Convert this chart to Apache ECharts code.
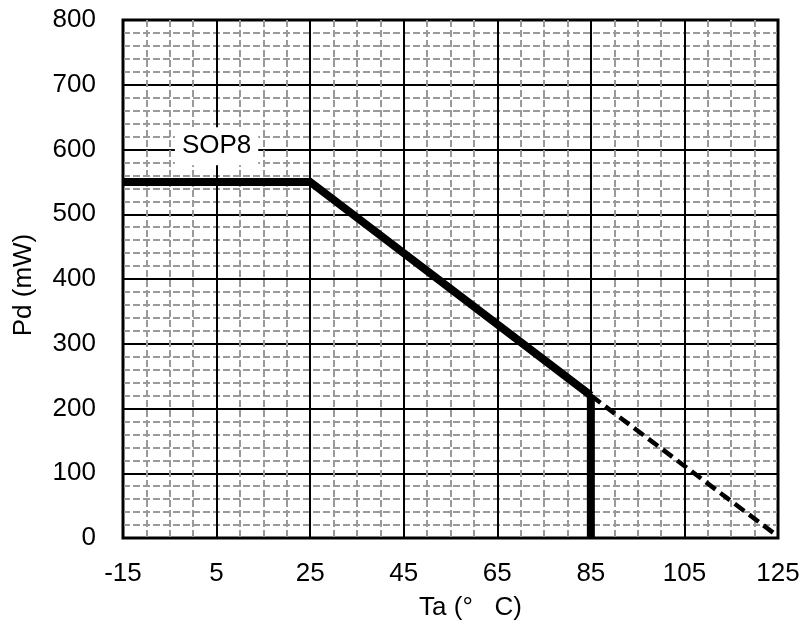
<!DOCTYPE html>
<html>
<head>
<meta charset="utf-8">
<script src="https://cdn.jsdelivr.net/npm/echarts@6/dist/echarts.min.js"></script>
<style>html,body{margin:0;padding:0;background:#fff;}#c{width:809px;height:628px;}</style>
</head>
<body>
<div id="c"></div>
<script>
// Data (temperature °C, power mW)
const X_MIN = -15, X_MAX = 125, X_STEP = 20;
const Y_MIN = 0, Y_MAX = 800, Y_STEP = 100;
const solidTemps = [-15, 25, 85];
const solidPower = [550, 550, 220];
const cutoffTemps = [85, 85];
const cutoffPower = [220, 0];
const dashTemps = [85, 124];
const dashPower = [220, 8];
const labelText = 'SOP8';
const labelPos = [5, 605];

// axis is offset so its ticks start at X_MIN
const sx = t => t - X_MIN;
const pts = (xs, ys) => xs.map((x, i) => [sx(x), ys[i]]);

const FONT = 'Liberation Sans, Arial, sans-serif';
const FS = 26;
const chart = echarts.init(document.getElementById('c'), null, {renderer: 'canvas'});
chart.setOption({
  animation: false,
  backgroundColor: '#fff',
  grid: {left: 123, right: 31, top: 20, bottom: 90, show: true, borderColor: '#000', borderWidth: 3, backgroundColor: 'transparent'},
  xAxis: {
    type: 'value', min: 0, max: X_MAX - X_MIN, interval: X_STEP,
    name: 'Ta (°   C)', nameLocation: 'middle', nameGap: 57,
    nameTextStyle: {color: '#000', fontSize: FS, fontFamily: FONT, padding: [0, 0, 0, 40]},
    axisLine: {show: false}, axisTick: {show: false},
    axisLabel: {color: '#000', fontSize: FS, fontFamily: FONT, margin: 23, formatter: v => String(v + X_MIN)},
    splitLine: {show: true, lineStyle: {color: '#000', width: 2}},
    minorTick: {show: false, splitNumber: 4},
    minorSplitLine: {show: true, lineStyle: {color: '#9a9a9a', width: 2, type: [7, 3]}}
  },
  yAxis: {
    type: 'value', min: Y_MIN, max: Y_MAX, interval: Y_STEP,
    name: 'Pd (mW)', nameLocation: 'middle', nameGap: 86, nameRotate: 90,
    nameTextStyle: {color: '#000', fontSize: FS, fontFamily: FONT, padding: [0, 12, 0, 0]},
    axisLine: {show: false}, axisTick: {show: false},
    axisLabel: {color: '#000', fontSize: FS, fontFamily: FONT, margin: 27},
    splitLine: {show: true, lineStyle: {color: '#000', width: 2}},
    minorTick: {show: false, splitNumber: 5},
    minorSplitLine: {show: true, lineStyle: {color: '#9a9a9a', width: 2, type: [7, 3]}}
  },
  series: [
    {type: 'line', data: pts(solidTemps, solidPower), symbol: 'none', clip: false,
     lineStyle: {color: '#000', width: 8, join: 'miter'}, z: 5},
    {type: 'line', data: pts(cutoffTemps, cutoffPower), symbol: 'none', clip: false,
     lineStyle: {color: '#000', width: 8}, z: 5},
    {type: 'line', data: pts(dashTemps, dashPower), symbol: 'none', clip: true,
     lineStyle: {color: '#000', width: 4.5, type: [12, 6]}, z: 4},
    {type: 'scatter', data: [[sx(labelPos[0]), labelPos[1]]], symbolSize: 0, z: 6,
     itemStyle: {opacity: 1},
     label: {show: true, position: 'inside', formatter: labelText, color: '#000', fontSize: FS, fontFamily: FONT,
       backgroundColor: '#fff', padding: [6, 7], opacity: 1}}
  ]
});
</script>
</body>
</html>
